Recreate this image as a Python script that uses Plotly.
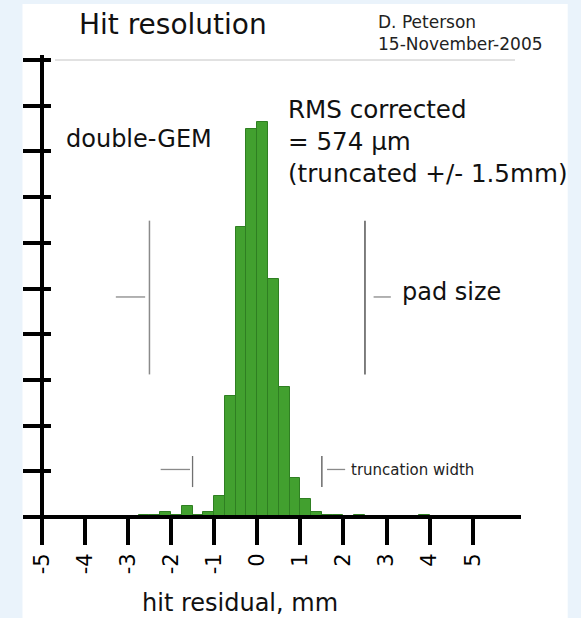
import plotly.graph_objects as go

# ---- data ----
bin_centers = [-2.625, -2.375, -2.125, -1.875, -1.625, -1.375, -1.125, -0.875,
               -0.625, -0.375, -0.125, 0.125, 0.375, 0.625, 0.875, 1.125,
               1.375, 1.625, 1.875, 2.375, 3.875]
counts = [1, 1, 2, 1, 5, 1, 2, 9, 53, 127, 170, 173, 104, 57, 17, 8, 2, 1, 1, 1, 1]
bin_width = 0.25
x_tick_vals = [-5, -4, -3, -2, -1, 0, 1, 2, 3, 4, 5]
x_tick_text = [str(v) for v in x_tick_vals]
y_tick_vals = list(range(0, 201, 20))
pad_half = 2.5      # pad size marker (mm)
trunc_half = 1.5    # truncation width marker (mm)

# ---- geometry ----
W, H = 581, 618
L, R, T, B = 23, 521, 55, 517
FONT = "DejaVu Sans"


def px(xp):
    return (xp - L) / (R - L)


def py(yp):
    return (B - yp) / (B - T)


fig = go.Figure()
fig.add_trace(go.Bar(
    x=bin_centers, y=counts, width=bin_width,
    marker=dict(color="#42a02f", line=dict(color="#2f7f22", width=1)),
    hoverinfo="x+y", showlegend=False,
))

y_axis_pos = px(41.7)

fig.update_layout(
    width=W, height=H,
    margin=dict(l=L, r=W - R, t=T, b=H - B, autoexpand=False),
    paper_bgcolor="#EAF3FB",
    plot_bgcolor="rgba(0,0,0,0)",
    showlegend=False,
    bargap=0,
    xaxis=dict(
        range=[-5.434, 6.12], anchor="free", position=0,
        showline=True, linewidth=4, linecolor="black",
        ticks="outside", ticklen=26, tickwidth=4, tickcolor="black",
        tickmode="array", tickvals=x_tick_vals, ticktext=x_tick_text,
        tickangle=-90, tickfont=dict(family=FONT, size=21, color="black"),
        showgrid=False, zeroline=False,
    ),
    yaxis=dict(
        range=[0, 202.2], anchor="free", position=y_axis_pos,
        showline=True, linewidth=4, linecolor="black",
        ticks="outside", ticklen=17, tickwidth=4, tickcolor="black",
        tickmode="array", tickvals=y_tick_vals, showticklabels=False,
        showgrid=False, zeroline=False,
    ),
    yaxis2=dict(
        range=[0, 202.2], anchor="free", position=y_axis_pos, side="right",
        overlaying="y", showline=False,
        ticks="outside", ticklen=8, tickwidth=4, tickcolor="black",
        tickmode="array", tickvals=y_tick_vals, showticklabels=False,
        showgrid=False, zeroline=False,
    ),
)

# invisible helper trace so the second y axis is drawn
fig.add_trace(go.Scatter(x=[bin_centers[0]], y=[0], yaxis="y2", mode="markers",
                         marker=dict(opacity=0), hoverinfo="skip", showlegend=False))

shapes = []
# white slide panel
shapes.append(dict(type="rect", xref="paper", yref="paper", layer="below",
                   x0=px(22.5), x1=px(567.7), y0=py(640), y1=py(4),
                   fillcolor="white", line=dict(width=0)))
# top rule
shapes.append(dict(type="line", xref="paper", yref="paper",
                   x0=px(55), x1=px(515), y0=py(60), y1=py(60),
                   line=dict(color="#c4c4c4", width=1)))
# pad size markers
shapes.append(dict(type="line", xref="x", yref="y", x0=-pad_half, x1=-pad_half,
                   y0=62.4, y1=129.7, line=dict(color="#8a8a8a", width=1.5)))
shapes.append(dict(type="line", xref="x", yref="y", x0=pad_half, x1=pad_half,
                   y0=62.4, y1=129.7, line=dict(color="#555555", width=1.5)))
shapes.append(dict(type="line", xref="x", yref="y", x0=-3.28, x1=-2.6,
                   y0=96.3, y1=96.3, line=dict(color="#999999", width=1.5)))
shapes.append(dict(type="line", xref="x", yref="y", x0=2.7, x1=3.1,
                   y0=96.3, y1=96.3, line=dict(color="#999999", width=1.5)))
# truncation width markers
shapes.append(dict(type="line", xref="x", yref="y", x0=-trunc_half, x1=-trunc_half,
                   y0=13.1, y1=26.7, line=dict(color="#707070", width=1.3)))
shapes.append(dict(type="line", xref="x", yref="y", x0=trunc_half, x1=trunc_half,
                   y0=13.1, y1=26.7, line=dict(color="#555555", width=1.3)))
shapes.append(dict(type="line", xref="x", yref="y", x0=-2.24, x1=-1.56,
                   y0=20.8, y1=20.8, line=dict(color="#8a8a8a", width=1.3)))
shapes.append(dict(type="line", xref="x", yref="y", x0=1.62, x1=2.04,
                   y0=20.8, y1=20.8, line=dict(color="#8a8a8a", width=1.3)))
fig.update_layout(shapes=shapes)


def note(text, xp, yp, size, xanchor="left", align="left", color="#111111"):
    fig.add_annotation(text=text, xref="paper", yref="paper", x=px(xp), y=py(yp),
                       xanchor=xanchor, yanchor="middle", align=align, showarrow=False,
                       font=dict(family=FONT, size=size, color=color))


note("Hit resolution", 172.5, 24.5, 28, xanchor="center", align="center")
note("D. Peterson<br>15-November-2005", 376, 33, 17, color="#222222")
note("double-GEM", 64, 139, 24)
note("RMS corrected<br>= 574 μm<br>(truncated +/- 1.5mm)", 286, 141, 24.6)
note("pad size", 400, 291.6, 24)
note("truncation width", 349, 469.8, 15, color="#222222")
note("hit residual, mm", 240, 602.6, 24, xanchor="center", align="center")

fig.write_html(
    "out.html",
    config={"responsive": False, "displayModeBar": False},
    post_script="document.body.style.margin='0';document.body.style.padding='0';"
                "document.documentElement.style.margin='0';",
)
